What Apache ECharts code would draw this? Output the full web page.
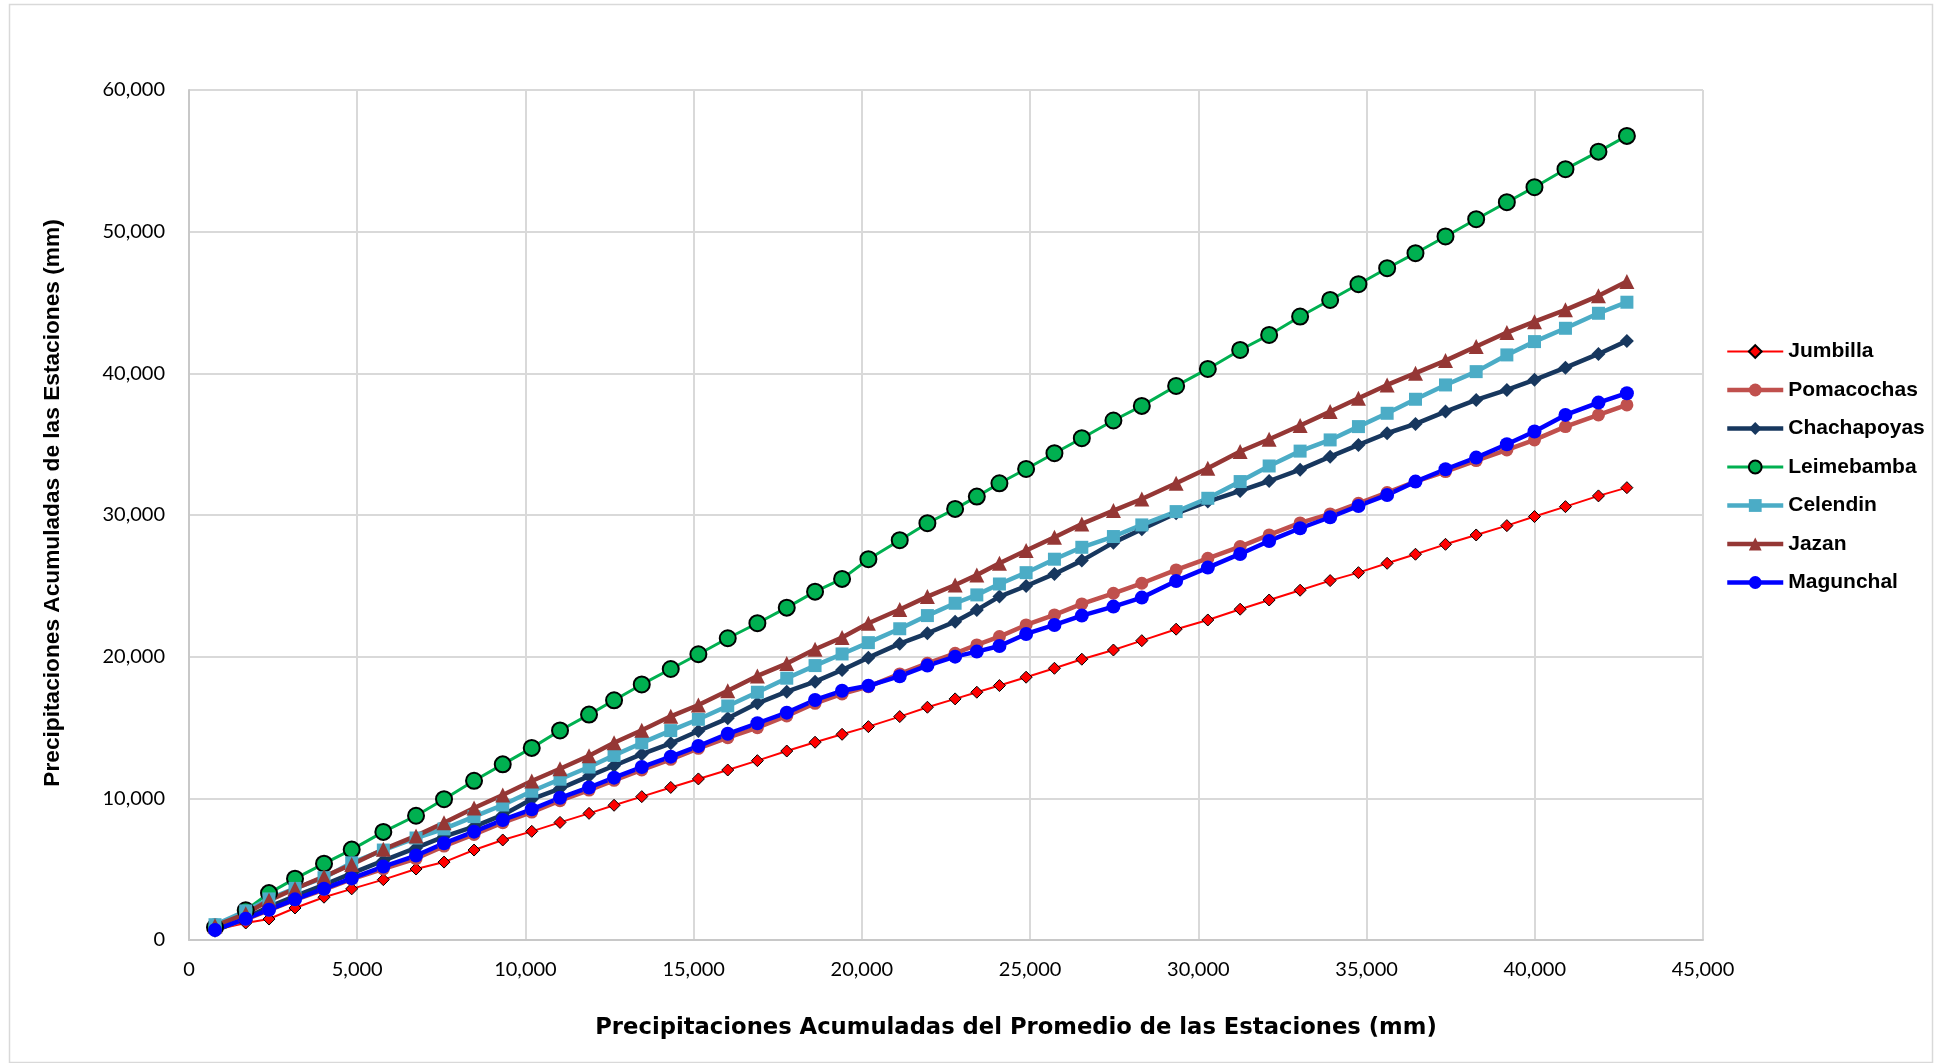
<!DOCTYPE html>
<html>
<head>
<meta charset="utf-8">
<script src="https://cdn.jsdelivr.net/npm/echarts@6/dist/echarts.min.js"></script>
<style>
html,body{margin:0;padding:0;background:#fff;}
#chart{width:1937px;height:1063px;}
</style>
</head>
<body>
<div id="chart"></div>
<script>
// Cumulative mean precipitation (x axis), mm
const xPromedio = [773, 1686, 2378, 3151, 4013, 4836, 5776, 6748, 7580, 8472,
  9325, 10187, 11028, 11890, 12634, 13457, 14319, 15140, 16013, 16894,
  17767, 18608, 19411, 20193, 21125, 21947, 22771, 23416, 24088, 24881,
  25723, 26537, 27476, 28320, 29340, 30282, 31243, 32105, 33025, 33918,
  34759, 35612, 36454, 37346, 38258, 39170, 39991, 40912, 41893, 42738];

const jumbilla = [720, 1200, 1480, 2260, 3020, 3610, 4260, 5010, 5500, 6350,
  7060, 7670, 8300, 8940, 9510, 10120, 10770, 11370, 12000, 12660,
  13340, 13960, 14520, 15060, 15770, 16430, 17020, 17490, 17960, 18550,
  19180, 19820, 20470, 21130, 21940, 22590, 23350, 24000, 24690, 25370,
  25930, 26590, 27230, 27930, 28590, 29250, 29890, 30590, 31350, 31930];

const pomacochas = [700, 1450, 2100, 2830, 3560, 4290, 5020, 5750, 6630, 7450,
  8280, 9030, 9830, 10580, 11270, 12000, 12755, 13532, 14285, 14990,
  15814, 16709, 17368, 17885, 18780, 19535, 20240, 20827, 21416, 22239,
  22945, 23722, 24475, 25182, 26122, 26946, 27768, 28593, 29440, 30076,
  30830, 31581, 32357, 33062, 33839, 34594, 35300, 36240, 37065, 37771];

const chachapoyas = [650, 1550, 2350, 3100, 3900, 4700, 5600, 6500, 7300, 8000,
  8830, 9940, 10690, 11570, 12300, 13120, 13885, 14755, 15648, 16708,
  17532, 18236, 19062, 19932, 20920, 21650, 22470, 23300, 24240, 24990,
  25840, 26780, 28050, 28990, 30120, 30950, 31700, 32400, 33200, 34120,
  34950, 35770, 36430, 37300, 38120, 38830, 39540, 40400, 41370, 42290];

const leimebamba = [900, 2100, 3310, 4330, 5390, 6380, 7630, 8770, 9940, 11240,
  12400, 13560, 14790, 15910, 16920, 18040, 19130, 20170, 21300, 22360,
  23460, 24590, 25490, 26880, 28220, 29420, 30430, 31300, 32240, 33250,
  34360, 35420, 36670, 37700, 39110, 40310, 41650, 42710, 44010, 45180,
  46290, 47420, 48480, 49660, 50880, 52080, 53140, 54410, 55650, 56760];

const celendin = [1080, 2050, 2900, 3640, 4400, 5450, 6350, 7200, 7840, 8710,
  9530, 10500, 11350, 12210, 13030, 13910, 14780, 15580, 16520, 17490,
  18480, 19370, 20190, 20990, 21970, 22900, 23770, 24360, 25130, 25930,
  26880, 27720, 28480, 29300, 30240, 31180, 32360, 33460, 34510, 35300,
  36240, 37180, 38170, 39180, 40120, 41300, 42240, 43180, 44240, 45020];

const jazan = [1000, 1850, 2800, 3620, 4470, 5330, 6400, 7350, 8270, 9320,
  10240, 11220, 12090, 13010, 13920, 14810, 15790, 16590, 17600, 18640,
  19510, 20520, 21350, 22360, 23330, 24240, 25060, 25770, 26590, 27490,
  28430, 29370, 30310, 31130, 32240, 33300, 34480, 35350, 36320, 37300,
  38240, 39180, 40010, 40900, 41890, 42880, 43650, 44480, 45470, 46480];

const magunchal = [710, 1500, 2140, 2870, 3620, 4350, 5180, 5960, 6825, 7648,
  8472, 9226, 10040, 10766, 11461, 12210, 12943, 13690, 14555, 15300,
  16049, 16944, 17590, 17945, 18620, 19370, 20000, 20356, 20756, 21604,
  22239, 22898, 23533, 24168, 25345, 26286, 27252, 28169, 29064, 29841,
  30640, 31417, 32357, 33230, 34053, 34997, 35889, 37065, 37935, 38595];

const stationNames = ['Jumbilla', 'Pomacochas', 'Chachapoyas', 'Leimebamba', 'Celendin', 'Jazan', 'Magunchal'];
const xTitle = 'Precipitaciones Acumuladas del Promedio de las Estaciones (mm)';
const yTitle = 'Precipitaciones Acumuladas de las Estaciones (mm)';

function pairs(ys) { return xPromedio.map((x, i) => [x, ys[i]]); }

const styles = [
  {data: jumbilla,    color: '#FF0000', symbol: 'diamond',  size: 12, width: 2,   border: {borderColor: '#000', borderWidth: 1}},
  {data: pomacochas,  color: '#C0504D', symbol: 'circle',   size: 13, width: 4.5, border: {}},
  {data: chachapoyas, color: '#17375E', symbol: 'diamond',  size: 14, width: 4.5, border: {}},
  {data: leimebamba,  color: '#00B050', symbol: 'circle',   size: 16, width: 3,   border: {borderColor: '#000', borderWidth: 2}},
  {data: celendin,    color: '#4BACC6', symbol: 'rect',     size: 13, width: 4.5, border: {}},
  {data: jazan,       color: '#953735', symbol: 'triangle', size: 15, width: 4.5, border: {}},
  {data: magunchal,   color: '#0000FF', symbol: 'circle',   size: 14, width: 4.5, border: {}}
];

const series = styles.map((s, i) => ({
  name: stationNames[i],
  type: 'line',
  data: pairs(s.data),
  symbol: s.symbol,
  symbolSize: s.size,
  showSymbol: true,
  showAllSymbol: true,
  lineStyle: {color: s.color, width: s.width},
  itemStyle: Object.assign({color: s.color}, s.border),
  emphasis: {disabled: true},
  animation: false
}));

const legendData = stationNames.map((n, i) => ({
  name: n,
  lineStyle: {width: styles[i].width, color: styles[i].color}
}));

const fmt = v => v.toLocaleString('en-US');

const chart = echarts.init(document.getElementById('chart'), null, {renderer: 'canvas'});
chart.setOption({
  backgroundColor: '#ffffff',
  animation: false,
  graphic: [{
    type: 'rect', left: 7, top: 2, silent: true,
    shape: {width: 1923, height: 1058},
    style: {fill: 'none', stroke: '#D9D9D9', lineWidth: 1.5}
  }],
  grid: {left: 189, top: 90, width: 1514, height: 850, containLabel: false, show: false},
  legend: {
    orient: 'vertical',
    left: 1720,
    top: 336,
    itemWidth: 56,
    itemHeight: 16,
    itemGap: 17.5,
    data: legendData,
    textStyle: {fontFamily: 'Liberation Sans', fontWeight: 'bold', fontSize: 21, color: '#000', lineHeight: 21}
  },
  xAxis: {
    type: 'value', min: 0, max: 45000, interval: 5000,
    name: xTitle,
    nameLocation: 'middle',
    nameGap: 77,
    nameTextStyle: {fontFamily: 'DejaVu Sans', fontWeight: 'bold', fontSize: 22.7, color: '#000', padding: [0, 0, 0, 140]},
    axisLine: {show: true, lineStyle: {color: '#C8C8C8', width: 2}},
    axisTick: {show: false},
    axisLabel: {fontFamily: 'Lato', fontSize: 20, color: '#000', margin: 20, formatter: fmt},
    splitLine: {show: true, lineStyle: {color: '#D9D9D9', width: 2}}
  },
  yAxis: {
    type: 'value', min: 0, max: 60000, interval: 10000,
    name: yTitle,
    nameLocation: 'middle',
    nameGap: 125,
    nameRotate: 90,
    nameTextStyle: {fontFamily: 'Liberation Sans', fontWeight: 'bold', fontSize: 22.7, color: '#000', padding: [0, 0, 0, 24]},
    axisLine: {show: true, lineStyle: {color: '#C8C8C8', width: 2}},
    axisTick: {show: false},
    axisLabel: {fontFamily: 'Lato', fontSize: 20, color: '#000', margin: 24, formatter: fmt},
    splitLine: {show: true, lineStyle: {color: '#D9D9D9', width: 2}}
  },
  series: series
});
</script>
</body>
</html>
